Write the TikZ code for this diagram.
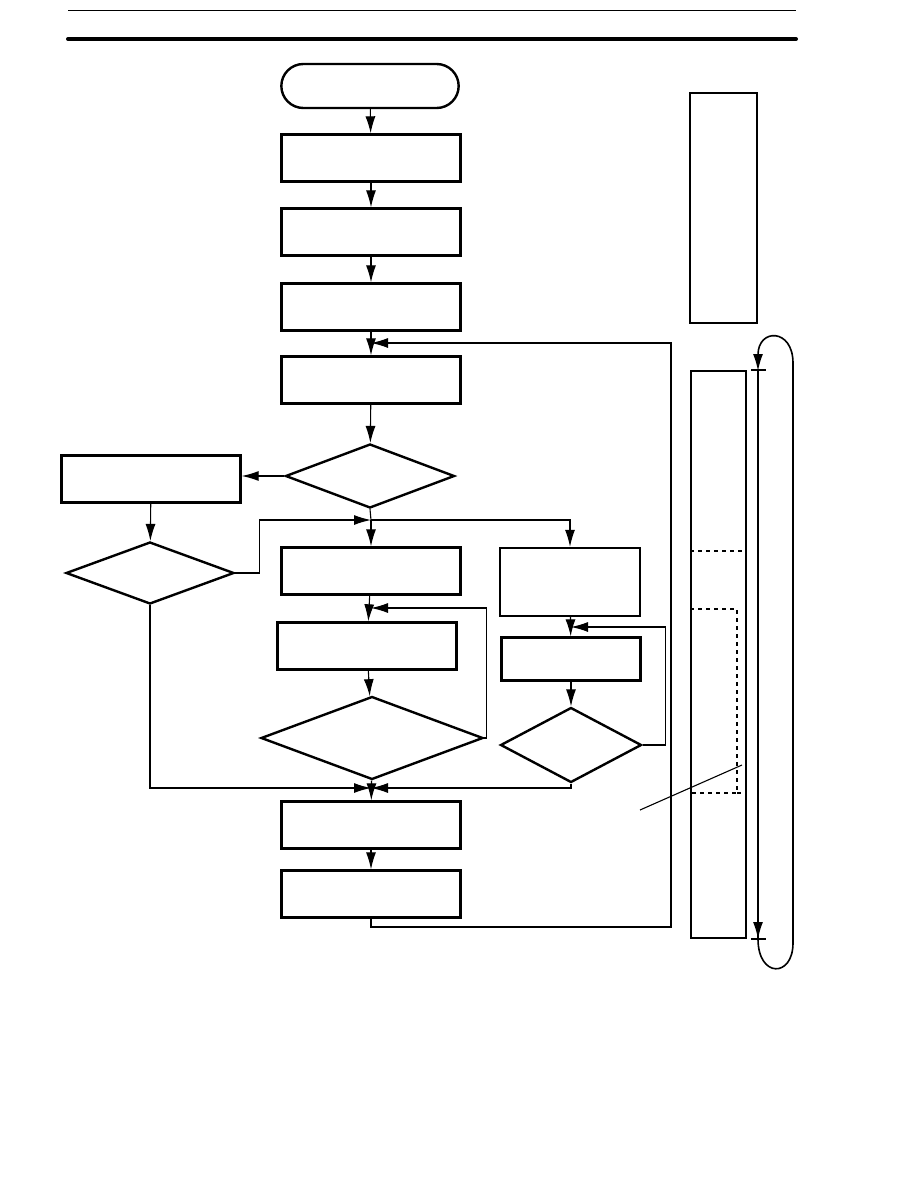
\documentclass[tikz,border=0pt]{standalone}
\usepackage{tikz}
\usetikzlibrary{arrows.meta,calc,positioning,shapes.geometric,shapes.misc}

\begin{document}
\begin{tikzpicture}[x=1pt, y=-1pt, >={Latex[length=17pt,width=10pt]},
    box/.style={draw, line width=2.4pt, minimum width=179pt, minimum height=47pt, inner sep=0pt},
    dec/.style={diamond, draw, line width=2.4pt, inner sep=0pt},
    flow/.style={->, line width=1.1pt}]
    \useasboundingbox (0,0) rectangle (918,1188);

    % header rules
    \draw[line width=1pt] (68,11) -- (796,11);
    \draw[line width=4pt, line cap=round] (68,39) -- (796,39);

    % main column
    \node[draw, rounded rectangle, line width=2.4pt, minimum width=184pt, minimum height=44pt] (start) at (370,86) {};
    \node[box] (b1) at (371,158) {};
    \node[box] (b2) at (371,232) {};
    \node[box] (b3) at (371,307) {};
    \node[box] (b4) at (371,380) {};
    \node[dec, minimum width=169pt, minimum height=64pt] (d1) at (370,476) {};
    \node[box] (b5) at (371,571) {};
    \node[box] (b6) at (367,646) {};
    \node[dec, minimum width=222pt, minimum height=83pt] (bd) at (372,738) {};
    \node[box] (b7) at (371,825) {};
    \node[box] (b8) at (371,894) {};

    % left branch
    \node[box] (lb) at (151,479) {};
    \node[dec, minimum width=168pt, minimum height=62pt] (ld) at (150,573) {};

    % right branch
    \node[box, minimum width=140pt, minimum height=68pt] (ra) at (570,582) {};
    \node[box, minimum width=139pt, minimum height=43pt] (rb) at (571,659) {};
    \node[dec, minimum width=141pt, minimum height=75pt] (rd) at (571,745) {};

    % junctions
    \coordinate (j1) at (371,343);
    \coordinate (j2) at (371,520);
    \coordinate (j3) at (371,608);
    \coordinate (j4) at (571,627);
    \coordinate (j5) at (371,788);
    \coordinate (back) at (671,927);

    % connections - main column
    \draw[flow] (start) -- (b1);
    \draw[flow] (b1) -- (b2);
    \draw[flow] (b2) -- (b3);
    \draw[flow] (b3) -- (b4);
    \draw[flow] (b4) -- (d1);
    \draw[line width=1.1pt] (d1.south) -- (j2);
    \draw[flow] (j2) -- (b5);
    \draw[flow] (b5) -- (b6);
    \draw[flow] (b6) -- (bd);
    \draw[flow] (bd) -- (b7);
    \draw[flow] (b7) -- (b8);
    \draw[flow] (b8.south) |- (back) |- (j1);
    \draw[flow] (bd.east) -- ++(2,0) |- (j3);

    % connections - left
    \draw[flow] (d1.west) -- (d1.west -| lb.east);
    \draw[flow] (lb) -- (ld);
    \draw[flow] (ld.east) -- ++(24,0) |- (j2);
    \draw[flow] (ld.south) |- (j5);

    % connections - right
    \draw[flow] (j2) -| (ra.north);
    \draw[flow] (ra) -- (rb);
    \draw[flow] (rb) -- (rd);
    \draw[flow] (rd.east) -- ++(23,0) |- (j4);
    \draw[flow] (rd.south) |- (j5);

    % side panel
    \node[draw, line width=2.4pt, minimum width=67pt, minimum height=230pt, inner sep=0pt] (pnl) at (723.5,208) {};
    \node[draw, line width=1.1pt, minimum width=55pt, minimum height=567pt, inner sep=0pt] (strip) at (718.5,654.5) {};
    \draw[line width=1.4pt, dash pattern=on 4pt off 4pt] (strip.west |- 0,551) -- (strip.east |- 0,551);
    \draw[line width=1.4pt, dash pattern=on 4pt off 4pt] (strip.west |- 0,609) -| (737,793) -- (strip.west |- 0,793);
    \draw[line width=1.4pt, dash pattern=on 4pt off 4pt] (737,793) -- (strip.east |- 0,793);
    \draw[line width=1.1pt] (640,810) -- (742,765);

    % scan cycle
    \draw[line width=2.6pt] (758,370) -- (758,938);
    \draw[line width=1.6pt] (793,943) -- (793,363);
    \draw[flow, line width=1.6pt] (793,363) .. controls (793,328) and (758,328) .. (758,371);
    \draw[flow, line width=1.6pt] (758,900) -- (758,939);
    \draw[line width=1.6pt] (758,939) .. controls (758,978) and (793,978) .. (793,943);
    \draw[line width=1.6pt] (751,370) -- (766,370);
    \draw[line width=1.6pt] (751,939) -- (766,939);
\end{tikzpicture}
\end{document}
